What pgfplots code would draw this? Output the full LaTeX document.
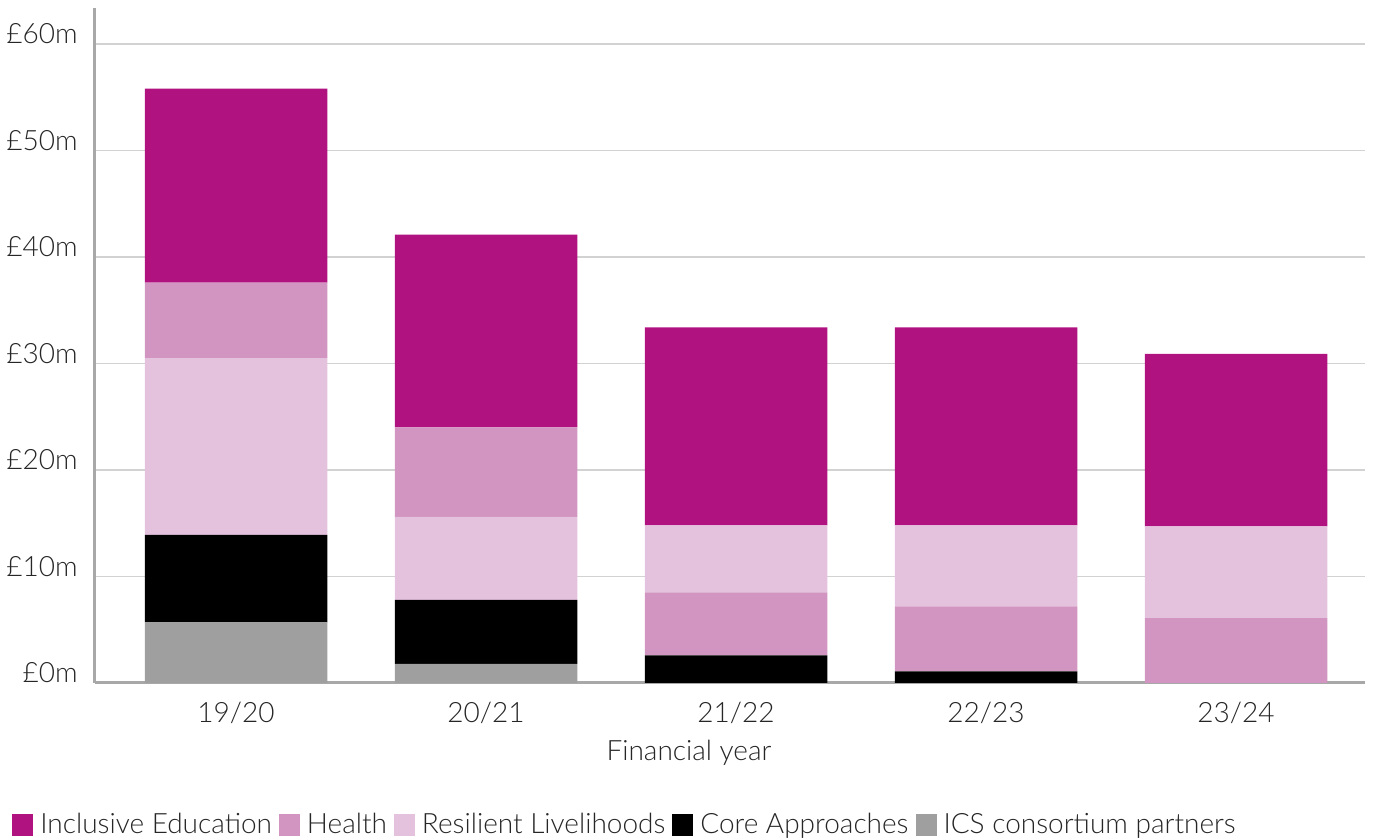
\documentclass[border=0pt]{standalone}
\usepackage{pgfplots}
\pgfplotsset{compat=1.18}
\usepackage{fontspec}
\setmainfont{Lato}[UprightFont=* Light]
\definecolor{incl}{HTML}{B0127F}
\definecolor{health}{HTML}{D294C0}
\definecolor{resil}{HTML}{E4C2DD}
\definecolor{icsgrey}{HTML}{9F9F9F}
\definecolor{axgrey}{HTML}{A8A8A8}
\definecolor{gridgrey}{HTML}{D2D2D2}
\newcommand{\chartfont}{\fontsize{14}{16.5}\selectfont}
\begin{document}
\begin{tikzpicture}
\begin{axis}[
  name=ax,
  width=635pt, height=337.5pt, scale only axis,
  ybar stacked, bar width=0.73,
  xmin=-0.564, xmax=4.516,
  ymin=0, ymax=63.38,
  axis x line=bottom, axis y line=left,
  axis line style={-, axgrey, line width=1.5pt},
  major tick length=0pt,
  ymajorgrids, grid style={gridgrey, line width=0.75pt},
  xtick={0,1,2,3,4},
  xticklabels={19/20,20/21,21/22,22/23,23/24},
  ytick={0,10,20,30,40,50,60},
  yticklabels={£0m,£10m,£20m,£30m,£40m,£50m,£60m},
  tick label style={font=\chartfont, text=black!85},
  yticklabel style={inner sep=0pt, anchor=east, xshift=-8.5pt, yshift=5pt},
  xticklabel style={inner sep=0pt, anchor=north, yshift=-9.5pt},
  xlabel={Financial year},
  xlabel style={font=\chartfont, text=black!85, inner sep=0pt, anchor=north, at={(axis description cs:0.5,0)}, yshift=-28.5pt, xshift=-20.5pt},
  every axis plot/.append style={draw=none},
  legend style={at={(rel axis cs:0,0)}, anchor=west, xshift=-41.5pt, yshift=-71pt,
    draw=none, fill=none, inner sep=0pt, font=\chartfont, text=black!85,
    legend columns=-1,
    /tikz/every odd column/.append style={column sep=3.5pt},
    /tikz/every even column/.append style={column sep=3.5pt},
    nodes={inner sep=0pt}},
  legend image code/.code={\fill[#1] (0pt,-5.5pt) rectangle (10.5pt,5.5pt);},
]
% ICS consortium partners
\addplot[fill=icsgrey, forget plot] coordinates {(0,5.7) (1,1.8) (2,0) (3,0) (4,0)};
% Core Approaches
\addplot[fill=black, forget plot] coordinates {(0,8.2) (1,6.0) (2,2.6) (3,1.1) (4,0)};
% Health (stacked below Resilient in 21/22 - 23/24)
\addplot[fill=health, forget plot] coordinates {(0,0) (1,0) (2,5.9) (3,6.1) (4,6.1)};
% Resilient Livelihoods
\addplot[fill=resil, forget plot] coordinates {(0,16.6) (1,7.8) (2,6.3) (3,7.6) (4,8.6)};
% Health (stacked above Resilient in 19/20 - 20/21)
\addplot[fill=health, forget plot] coordinates {(0,7.1) (1,8.4) (2,0) (3,0) (4,0)};
% Inclusive Education
\addplot[fill=incl, forget plot] coordinates {(0,18.2) (1,18.1) (2,18.6) (3,18.6) (4,16.2)};
\addlegendimage{fill=incl}
\addlegendentry{Inclusive Education}
\addlegendimage{fill=health}
\addlegendentry{Health}
\addlegendimage{fill=resil}
\addlegendentry{Resilient Livelihoods}
\addlegendimage{fill=black}
\addlegendentry{Core Approaches}
\addlegendimage{fill=icsgrey}
\addlegendentry{ICS consortium partners}
\end{axis}
\pgfresetboundingbox
\path[use as bounding box] ([shift={(-47.5pt,-78pt)}]ax.south west) rectangle ([shift={(4.5pt,4pt)}]ax.north east);
\end{tikzpicture}
\end{document}
